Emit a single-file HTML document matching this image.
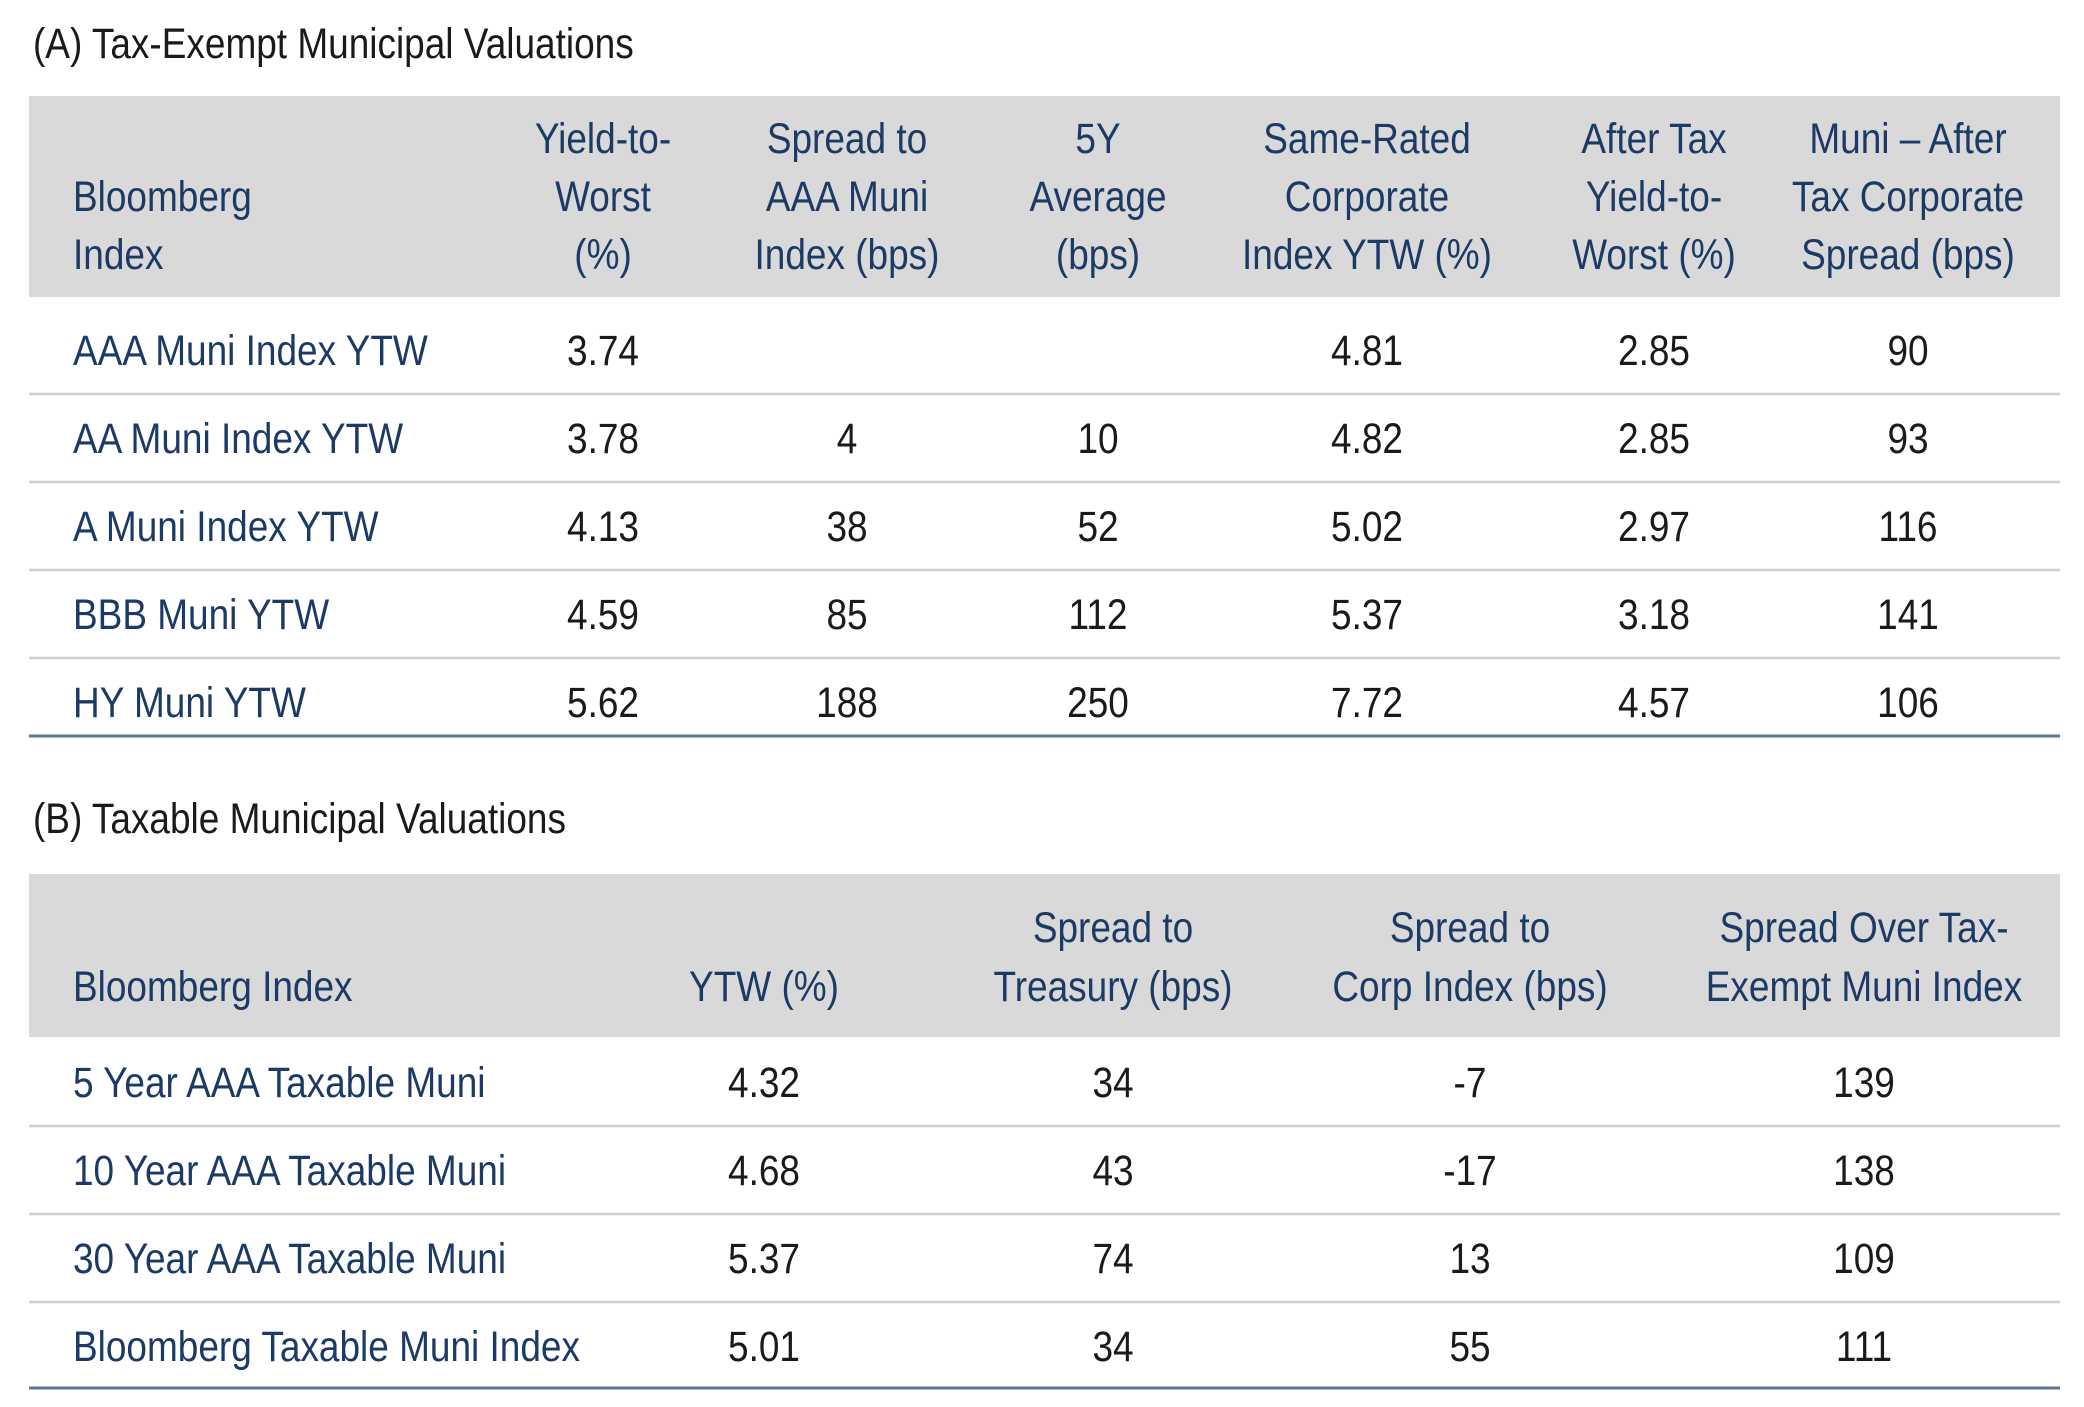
<!DOCTYPE html>
<html><head><meta charset="utf-8"><style>
html,body{margin:0;padding:0;background:#fff;}
svg{display:block;font-family:"Liberation Sans",sans-serif;}
</style></head><body>
<svg id="s" width="2084" height="1407" viewBox="0 0 2084 1407" xmlns="http://www.w3.org/2000/svg"></svg>
<script>
const headA=[["Bloomberg","Index"],["Yield-to-","Worst","(%)"],["Spread to","AAA Muni","Index (bps)"],["5Y","Average","(bps)"],["Same-Rated","Corporate","Index YTW (%)"],["After Tax","Yield-to-","Worst (%)"],["Muni \u2013 After","Tax Corporate","Spread (bps)"]];
const labelsA=["AAA Muni Index YTW","AA Muni Index YTW","A Muni Index YTW","BBB Muni YTW","HY Muni YTW"];
const valuesA=[["3.74","","","4.81","2.85","90"],["3.78","4","10","4.82","2.85","93"],["4.13","38","52","5.02","2.97","116"],["4.59","85","112","5.37","3.18","141"],["5.62","188","250","7.72","4.57","106"]];
const headB=[["Bloomberg Index"],["YTW (%)"],["Spread to","Treasury (bps)"],["Spread to","Corp Index (bps)"],["Spread Over Tax-","Exempt Muni Index"]];
const labelsB=["5 Year AAA Taxable Muni","10 Year AAA Taxable Muni","30 Year AAA Taxable Muni","Bloomberg Taxable Muni Index"];
const valuesB=[["4.32","34","-7","139"],["4.68","43","-17","138"],["5.37","74","13","109"],["5.01","34","55","111"]];

const NS="http://www.w3.org/2000/svg";
const svg=document.getElementById('s');
const SX=0.86, FS=43;
function el(tag,attrs,parent){const e=document.createElementNS(NS,tag);for(const k in attrs)e.setAttribute(k,attrs[k]);(parent||svg).appendChild(e);return e;}
function txt(str,x,cy,anchor,color,name){
  const t=el('text',{transform:`translate(${x},${cy+15}) scale(${SX},1)`,'text-anchor':anchor,fill:color,'font-size':FS});
  t.textContent=str;
  
  
  return t;
}
function table(cfg){
  const r=el('rect',{x:29,y:cfg.hTop,width:2031,height:cfg.hBot-cfg.hTop,fill:'#d9d9d9'});
  
  
  const tt=txt(cfg.title,33,cfg.titleY,'start','#1a1a1a',cfg.id+'-title');
  cfg.head.forEach((lines,c)=>{
    const n=lines.length;
    lines.forEach((ln,i)=>{
      const y=cfg.hLast-(n-1-i)*cfg.hGap;
      const x=c===0?73:cfg.cols[c-1];
      txt(ln,x,y,c===0?'start':'middle','#1b3a66',cfg.id+'-header-col'+c);
    });
  });
  cfg.labels.forEach((lab,r)=>{
    const y=cfg.rowY0+r*cfg.rowH;
    txt(lab,73,y,'start','#1b3a66',cfg.id+'-row-label');
    cfg.values[r].forEach((v,c)=>{ if(v!=='') txt(v,cfg.cols[c],y,'middle','#1a1a1a',cfg.id+'-cell'); });
    if(r<cfg.labels.length-1){
      const l=el('line',{x1:29,x2:2060,y1:y+cfg.rowH/2,y2:y+cfg.rowH/2,stroke:'#cfcfcf','stroke-width':2.5});
      
      
    }
  });
  const b=el('line',{x1:29,x2:2060,y1:cfg.bottom,y2:cfg.bottom,stroke:'#5a7894','stroke-width':3});
  
  
}
table({id:'table-a',title:'(A) Tax-Exempt Municipal Valuations',titleY:43,hTop:96,hBot:297,hLast:254,hGap:58,
  head:headA,labels:labelsA,values:valuesA,cols:[603,847,1098,1367,1654,1908],rowY0:350,rowH:88,bottom:736});
table({id:'table-b',title:'(B) Taxable Municipal Valuations',titleY:818,hTop:874,hBot:1037,hLast:986,hGap:59,
  head:headB,labels:labelsB,values:valuesB,cols:[764,1113,1470,1864],rowY0:1082,rowH:88,bottom:1388});
</script>
</body></html>
